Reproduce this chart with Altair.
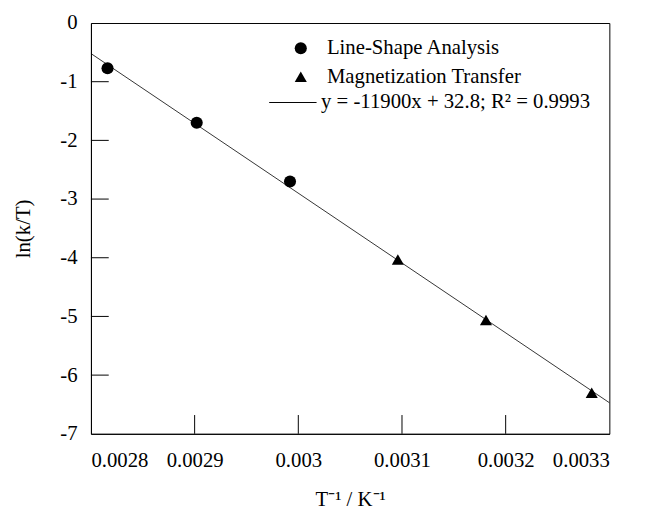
import altair as alt
import pandas as pd

# Line-shape analysis points
ls_x = [0.002816, 0.002902, 0.002992]
ls_y = [-0.77, -1.70, -2.70]
# Magnetization transfer points
mt_x = [0.003096, 0.003181, 0.003283]
mt_y = [-4.03, -5.06, -6.30]
# fitted line end points
fit_x = [0.0028, 0.0033]
fit_y = [-0.52, -6.47]

methods = ["Line-Shape Analysis", "Magnetization Transfer"]
fit_label = "y = -11900x + 32.8; R² = 0.9993"

x_ticks = [0.0028, 0.0029, 0.0030, 0.0031, 0.0032, 0.0033]
y_ticks = [-7, -6, -5, -4, -3, -2, -1, 0]
x_inner = [0.0029, 0.0030, 0.0031, 0.0032]
y_inner = [-6, -5, -4, -3, -2, -1]

FONT = "Liberation Serif"

pts = pd.DataFrame({
    "x": ls_x + mt_x,
    "y": ls_y + mt_y,
    "method": [methods[0]] * len(ls_x) + [methods[1]] * len(mt_x),
})
fit = pd.DataFrame({"x": fit_x, "y": fit_y, "label": [fit_label] * len(fit_x)})
xt = pd.DataFrame({"x": x_inner})
yt = pd.DataFrame({"y": y_inner})

xscale = alt.Scale(domain=[0.0028, 0.0033], nice=False, zero=False)
yscale = alt.Scale(domain=[-7, 0], nice=False, zero=False)

xaxis = alt.Axis(values=x_ticks, labelExpr="'' + datum.value", title="T⁻¹ / K⁻¹",
                 ticks=False, tickSize=0, labelPadding=16, titlePadding=19, grid=False)
yaxis = alt.Axis(values=y_ticks, labelExpr="'' + datum.value", title="ln(k/T)",
                 ticks=False, tickSize=0, labelPadding=14, titlePadding=27, grid=False)

line = alt.Chart(fit).mark_line(strokeWidth=0.8).encode(
    x=alt.X("x:Q", scale=xscale, axis=xaxis),
    y=alt.Y("y:Q", scale=yscale, axis=yaxis),
    color=alt.Color("label:N", scale=alt.Scale(domain=[fit_label], range=["black"]),
                    legend=alt.Legend(title=None, orient="none", legendX=180, legendY=56,
                                      symbolType="stroke", symbolSize=2304,
                                      symbolStrokeWidth=1, symbolStrokeColor="black",
                                      labelOffset=4, padding=0, labelLimit=600,
                                      labelFont=FONT, labelFontSize=21, labelColor="black")),
)

points = alt.Chart(pts).mark_point(filled=True, size=150, opacity=1, color="black").encode(
    x=alt.X("x:Q", scale=xscale),
    y=alt.Y("y:Q", scale=yscale),
    shape=alt.Shape("method:N", scale=alt.Scale(domain=methods, range=["circle", "triangle-up"]),
                    legend=alt.Legend(title=None, orient="none", legendX=202, legendY=15,
                                      symbolSize=150, symbolFillColor="black",
                                      symbolStrokeColor="black", symbolStrokeWidth=0,
                                      symbolOpacity=1, labelLimit=600,
                                      labelOffset=16, rowPadding=7, padding=0,
                                      labelFont=FONT, labelFontSize=21, labelColor="black")),
)

xtick_rules = alt.Chart(xt).mark_rule(color="black", strokeWidth=1).encode(
    x=alt.X("x:Q", scale=xscale),
    y=alt.value(416),
    y2=alt.value(397),
)
ytick_rules = alt.Chart(yt).mark_rule(color="black", strokeWidth=1).encode(
    y=alt.Y("y:Q", scale=yscale),
    x=alt.value(0),
    x2=alt.value(18),
)

chart = alt.layer(line, points, xtick_rules, ytick_rules).resolve_legend(
    shape="independent", color="independent"
).properties(
    width=525,
    height=416,
    autosize="none",
    padding={"left": 84, "top": 12, "right": 28, "bottom": 77},
    background="white",
).configure_view(
    stroke="black", strokeWidth=1
).configure_axis(
    domainColor="black", domainWidth=1,
    labelFont=FONT, labelFontSize=21, labelColor="black",
    titleFont=FONT, titleFontSize=21, titleFontWeight="normal", titleColor="black",
)

chart.save("out.html", embed_options={"renderer": "svg", "actions": False})
